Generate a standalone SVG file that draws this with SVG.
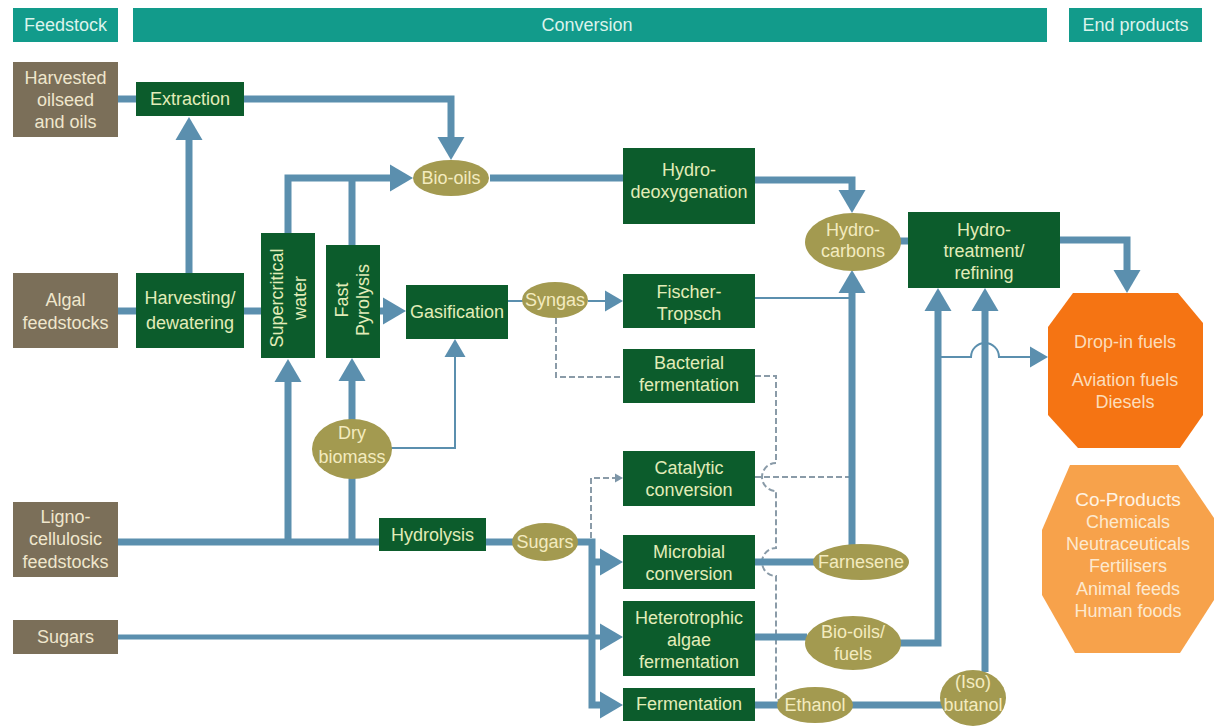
<svg xmlns="http://www.w3.org/2000/svg" width="1217" height="727" viewBox="0 0 1217 727">
<defs>
<style>
text{font-family:"Liberation Sans","DejaVu Sans",sans-serif;font-size:18px;text-anchor:middle}
.hdr rect{fill:#129b8b}
.hdr text{fill:#dcf3ec}
.feed rect{fill:#7b6f59}
.feed text{fill:#efe6cc}
.proc rect{fill:#0c5c2c}
.proc text{fill:#e2ecb8}
.prod ellipse{fill:#a39a50}
.prod text{fill:#f3ebbf}
.thick{fill:none;stroke:#5b8fae;stroke-width:7}
.mid{fill:none;stroke:#5b8fae;stroke-width:5}
.thin{fill:none;stroke:#5b8fae;stroke-width:2}
.dash{fill:none;stroke:#8a9ba8;stroke-width:2;stroke-dasharray:6 3}
.fuel polygon{fill:#f57413}
.fuel text{fill:#fcdcba}
.cop polygon{fill:#f7a24b}
.cop text{fill:#fde9cf}
</style>
<marker id="big" markerUnits="userSpaceOnUse" viewBox="0 0 23 27" refX="0" refY="13.5" markerWidth="23" markerHeight="27" orient="auto" overflow="visible"><path d="M0,0 L23,13.5 L0,27 z" fill="#5b8fae"/></marker>
<marker id="med" markerUnits="userSpaceOnUse" viewBox="0 0 18 21" refX="0" refY="10.5" markerWidth="18" markerHeight="21" orient="auto" overflow="visible"><path d="M0,0 L18,10.5 L0,21 z" fill="#5b8fae"/></marker>
<marker id="sml" markerUnits="userSpaceOnUse" viewBox="0 0 8 9" refX="0" refY="4.5" markerWidth="8" markerHeight="9" orient="auto" overflow="visible"><path d="M0,0 L8,4.5 L0,9 z" fill="#7d96a8"/></marker>
</defs>
<rect width="1217" height="727" fill="#ffffff"/>

<g id="headers" class="hdr">
<g id="h-feedstock"><rect x="13" y="8" width="105" height="34"/><text x="65.5" y="31">Feedstock</text></g>
<g id="h-conversion"><rect x="133" y="8" width="914" height="34"/><text x="587" y="31">Conversion</text></g>
<g id="h-end"><rect x="1069" y="8" width="133" height="34"/><text x="1135.5" y="31">End products</text></g>
</g>

<g id="connectors">
<path class="thick" d="M118,99 H136"/>
<path class="thick" d="M244,99 H451 V137" marker-end="url(#big)"/>
<path class="thick" d="M189,273 V140" marker-end="url(#big)"/>
<path class="thick" d="M118,311 H136"/>
<path class="thick" d="M244,311 H261"/>
<path class="thick" d="M288,233 V178 H390" marker-end="url(#big)"/>
<path class="thick" d="M352,245 V178"/>
<path class="thick" d="M380,311 H383" marker-end="url(#big)"/>
<path class="thick" d="M352,421 V381" marker-end="url(#big)"/>
<path class="thin" d="M391,448 H455 V357" marker-end="url(#med)"/>
<path class="thick" d="M118,542 H380"/>
<path class="thick" d="M288,542 V382" marker-end="url(#big)"/>
<path class="thick" d="M352,542 V478"/>
<path class="thick" d="M485,542 H514"/>
<path class="thick" d="M576,542 H592 V705 H600" marker-end="url(#big)"/>
<path class="thick" d="M592,562 H600" marker-end="url(#big)"/>
<path class="mid" d="M118,637 H600" marker-end="url(#big)"/>
<path class="dash" d="M591,538 V478 H615" marker-end="url(#sml)"/>
<path class="thin" d="M508,301 H523"/>
<path class="thin" d="M588,301 H605" marker-end="url(#med)"/>
<path class="dash" d="M556,318 V377 H623"/>
<path class="dash" d="M755,376 H776 V463 A14,14 0 0 0 776,491 V548 A14,14 0 0 0 776,576 V700 H784"/>
<path class="dash" d="M755,477 H852"/>
<path class="thin" d="M755,298 H852"/>
<path class="thick" d="M490,178 H623"/>
<path class="thick" d="M755,180 H852 V190" marker-end="url(#big)"/>
<path class="thick" d="M852,547 V293" marker-end="url(#big)"/>
<path class="thick" d="M900,241 H908"/>
<path class="thick" d="M1059,240 H1127 V270" marker-end="url(#big)"/>
<path class="thick" d="M900,643 H938 V311" marker-end="url(#big)"/>
<path class="thick" d="M985,672 V311" marker-end="url(#big)"/>
<path class="thin" d="M938,357 H971 A14,14 0 0 1 999,357 H1030" marker-end="url(#med)"/>
<path class="thick" d="M755,562 H815"/>
<path class="thick" d="M755,637 H807"/>
<path class="thick" d="M755,705 H779"/>
<path class="thick" d="M851,705 H944"/>
</g>

<g id="n-oilseed" class="feed"><rect x="13" y="62" width="105" height="75"/><text x="65.5" y="84">Harvested</text><text x="65.5" y="106">oilseed</text><text x="65.5" y="128">and oils</text></g>
<g id="n-algal" class="feed"><rect x="13" y="273" width="105" height="75"/><text x="65.5" y="306">Algal</text><text x="65.5" y="329">feedstocks</text></g>
<g id="n-ligno" class="feed"><rect x="13" y="502" width="105" height="75"/><text x="65.5" y="523">Ligno-</text><text x="65.5" y="545">cellulosic</text><text x="65.5" y="568">feedstocks</text></g>
<g id="n-sugarsfeed" class="feed"><rect x="13" y="620" width="105" height="34"/><text x="65.5" y="643">Sugars</text></g>

<g id="n-extraction" class="proc"><rect x="136" y="82" width="108" height="34"/><text x="190" y="105">Extraction</text></g>
<g id="n-harvesting" class="proc"><rect x="136" y="273" width="108" height="75"/><text x="190" y="304">Harvesting/</text><text x="190" y="329">dewatering</text></g>
<g id="n-supercritical" class="proc"><rect x="261" y="233" width="54" height="125"/><g transform="translate(288,298) rotate(-90)"><text x="0" y="-5">Supercritical</text><text x="0" y="18">water</text></g></g>
<g id="n-pyrolysis" class="proc"><rect x="326" y="245" width="54" height="113"/><g transform="translate(352,300) rotate(-90)"><text x="0" y="-4">Fast</text><text x="0" y="17">Pyrolysis</text></g></g>
<g id="n-gasification" class="proc"><rect x="406" y="285" width="102" height="54"/><text x="457" y="318">Gasification</text></g>
<g id="n-hydrolysis" class="proc"><rect x="379" y="518" width="107" height="33"/><text x="432.5" y="541">Hydrolysis</text></g>
<g id="n-hdo" class="proc"><rect x="623" y="148" width="132" height="76"/><text x="689" y="176">Hydro-</text><text x="689" y="198">deoxygenation</text></g>
<g id="n-ft" class="proc"><rect x="623" y="274" width="132" height="54"/><text x="689" y="298">Fischer-</text><text x="689" y="320">Tropsch</text></g>
<g id="n-bacterial" class="proc"><rect x="623" y="349" width="132" height="54"/><text x="689" y="369">Bacterial</text><text x="689" y="391">fermentation</text></g>
<g id="n-catalytic" class="proc"><rect x="623" y="451" width="132" height="55"/><text x="689" y="474">Catalytic</text><text x="689" y="496">conversion</text></g>
<g id="n-microbial" class="proc"><rect x="623" y="535" width="132" height="54"/><text x="689" y="558">Microbial</text><text x="689" y="580">conversion</text></g>
<g id="n-hetero" class="proc"><rect x="623" y="601" width="132" height="75"/><text x="689" y="624">Heterotrophic</text><text x="689" y="646">algae</text><text x="689" y="668">fermentation</text></g>
<g id="n-fermentation" class="proc"><rect x="623" y="688" width="132" height="33"/><text x="689" y="710">Fermentation</text></g>
<g id="n-hydrotreat" class="proc"><rect x="908" y="212" width="152" height="76"/><text x="984" y="236">Hydro-</text><text x="984" y="257">treatment/</text><text x="984" y="279">refining</text></g>

<g id="n-biooils" class="prod"><ellipse cx="451" cy="178" rx="38" ry="18"/><text x="451" y="184">Bio-oils</text></g>
<g id="n-syngas" class="prod"><ellipse cx="555" cy="300" rx="33" ry="18"/><text x="555" y="306">Syngas</text></g>
<g id="n-hydrocarbons" class="prod"><ellipse cx="853" cy="242" rx="48" ry="29"/><text x="853" y="236">Hydro-</text><text x="853" y="257">carbons</text></g>
<g id="n-drybiomass" class="prod"><ellipse cx="352" cy="449" rx="40" ry="30"/><text x="352" y="439">Dry</text><text x="352" y="463">biomass</text></g>
<g id="n-sugars" class="prod"><ellipse cx="545" cy="542" rx="33" ry="19"/><text x="545" y="548">Sugars</text></g>
<g id="n-farnesene" class="prod"><ellipse cx="861" cy="562" rx="48" ry="18"/><text x="861" y="568">Farnesene</text></g>
<g id="n-biofuels" class="prod"><ellipse cx="853" cy="643" rx="48" ry="27"/><text x="853" y="638">Bio-oils/</text><text x="853" y="660">fuels</text></g>
<g id="n-ethanol" class="prod"><ellipse cx="815" cy="705" rx="38" ry="18"/><text x="815" y="711">Ethanol</text></g>
<g id="n-butanol" class="prod"><ellipse cx="973" cy="698" rx="33" ry="28"/><text x="973" y="688">(Iso)</text><text x="973" y="711">butanol</text></g>

<g id="n-dropin" class="fuel"><polygon points="1073,293 1178,293 1203,323 1203,415 1180,448 1078,448 1048,415 1048,327"/><text x="1125" y="348">Drop-in fuels</text><text x="1125" y="386">Aviation fuels</text><text x="1125" y="408">Diesels</text></g>
<g id="n-coproducts" class="cop"><polygon points="1070,465 1178,465 1214,518 1214,600 1180,653 1075,653 1042,595 1042,530"/><text x="1128" y="506" style="font-size:19px;fill:#fff3e3">Co-Products</text><text x="1128" y="528">Chemicals</text><text x="1128" y="550">Neutraceuticals</text><text x="1128" y="572">Fertilisers</text><text x="1128" y="595">Animal feeds</text><text x="1128" y="617">Human foods</text></g>
</svg>
